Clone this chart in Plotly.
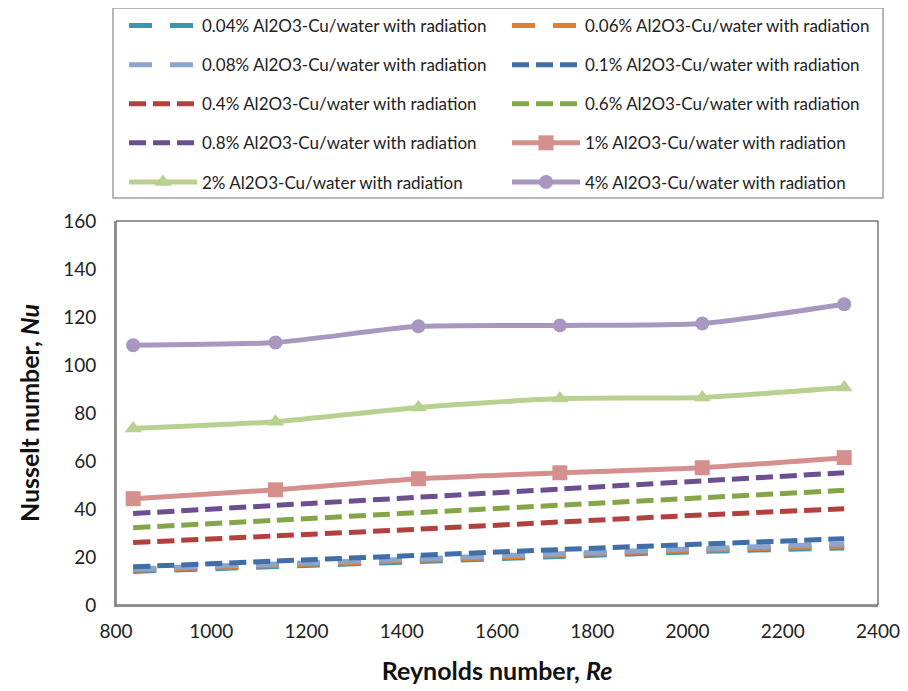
import plotly.graph_objects as go

re_vals = [836, 1135, 1435, 1732, 2031, 2329]

nu_004 = [14.0, 16.0, 18.1, 20.2, 22.3, 23.8]
nu_006 = [14.5, 16.5, 18.6, 20.8, 22.9, 24.5]
nu_008 = [15.0, 17.1, 19.2, 21.4, 23.5, 25.4]
nu_01 = [15.9, 18.3, 20.7, 23.1, 25.4, 27.6]
nu_04 = [26.0, 28.8, 31.6, 34.6, 37.5, 40.1]
nu_06 = [32.2, 35.3, 38.5, 41.6, 44.7, 47.8]
nu_08 = [38.1, 41.5, 44.9, 48.3, 51.7, 55.1]
nu_1 = [44.3, 48.0, 52.6, 55.1, 57.2, 61.4]
nu_2 = [73.5, 76.4, 82.3, 86.0, 86.5, 90.6]
nu_4 = [108.2, 109.4, 116.1, 116.5, 117.3, 125.3]

x_ticks = [800, 1000, 1200, 1400, 1600, 1800, 2000, 2200, 2400]
y_ticks = [0, 20, 40, 60, 80, 100, 120, 140, 160]

FONT = "Lato"

series = [
    ("0.04% Al2O3-Cu/water with radiation", nu_004, "#3A97AE", "23px,18px", None, "legend"),
    ("0.06% Al2O3-Cu/water with radiation", nu_006, "#E07E31", "23px,18px", None, "legend2"),
    ("0.08% Al2O3-Cu/water with radiation", nu_008, "#8AA6CE", "23px,18px", None, "legend"),
    ("0.1% Al2O3-Cu/water with radiation", nu_01, "#3F6EA8", "17px,7px", None, "legend2"),
    ("0.4% Al2O3-Cu/water with radiation", nu_04, "#B2403C", "17px,7px", None, "legend"),
    ("0.6% Al2O3-Cu/water with radiation", nu_06, "#84A548", "17px,7px", None, "legend2"),
    ("0.8% Al2O3-Cu/water with radiation", nu_08, "#6B4F8F", "17px,7px", None, "legend"),
    ("1% Al2O3-Cu/water with radiation", nu_1, "#D58F8D", "solid", "square", "legend2"),
    ("2% Al2O3-Cu/water with radiation", nu_2, "#B8D090", "solid", "triangle-up", "legend"),
    ("4% Al2O3-Cu/water with radiation", nu_4, "#A898C0", "solid", "circle", "legend2"),
]

marker_sizes = {"square": 15, "triangle-up": 15, "circle": 14}

fig = go.Figure()
for i, (name, vals, color, dash, sym, leg) in enumerate(series):
    kw = dict(
        x=re_vals, y=vals, name=name, legend=leg, legendgroup=f"g{i}",
        line=dict(color=color, width=5, dash=dash, shape="spline", smoothing=0.6),
    )
    if sym:
        kw["mode"] = "lines+markers"
        kw["marker"] = dict(symbol=sym, size=marker_sizes[sym], color=color)
    else:
        kw["mode"] = "lines"
    fig.add_trace(go.Scatter(**kw))

# plot area in figure pixels
L, T, R, B = 108, 213, 38, 94
W, H = 908, 691
pw = W - L - R
ph = H - T - B

def px_x(p):
    return (p - L) / pw

def px_y(p):
    return 1 + (T - p) / ph

legend_common = dict(
    bgcolor="rgba(0,0,0,0)", borderwidth=0, orientation="v",
    traceorder="grouped", tracegroupgap=14, itemwidth=68,
    font=dict(family=FONT, size=17, color="#222222"),
    yanchor="top", xanchor="left", y=px_y(0),
)

fig.update_layout(
    width=W, height=H,
    margin=dict(l=L, r=R, t=T, b=B, autoexpand=False),
    paper_bgcolor="white", plot_bgcolor="white",
    font=dict(family=FONT, size=19, color="#222222"),
    showlegend=True,
    legend=dict(**legend_common, x=px_x(116)),
    legend2=dict(**legend_common, x=px_x(499)),
    xaxis=dict(
        range=[800, 2400], tickvals=x_ticks, ticktext=[str(v) for v in x_ticks],
        showgrid=False, zeroline=False, showline=True, linecolor="#8C8C8C", linewidth=2,
        ticks="outside", ticklen=8, tickcolor="rgba(0,0,0,0)",
        tickfont=dict(family=FONT, size=19, color="#222222"),
        title=dict(text="<b>Reynolds number, <i>Re</i></b>",
                   font=dict(family=FONT, size=25, color="#111111"), standoff=22),
    ),
    yaxis=dict(
        range=[0, 160], tickvals=y_ticks, ticktext=[str(v) for v in y_ticks],
        showgrid=False, zeroline=False, showline=True, linecolor="#8C8C8C", linewidth=2,
        ticks="outside", ticklen=14, tickcolor="rgba(0,0,0,0)",
        tickfont=dict(family=FONT, size=19, color="#222222"),
        title=dict(text="<b>Nusselt number, <i>Nu</i></b>",
                   font=dict(family=FONT, size=25, color="#111111"), standoff=16),
    ),
    shapes=[
        dict(type="rect", xref="paper", yref="paper", x0=0, x1=1, y0=0, y1=1,
             line=dict(color="#333333", width=1), layer="below"),
        dict(type="rect", xref="paper", yref="paper",
             x0=px_x(105), x1=px_x(875), y0=px_y(190), y1=px_y(0),
             line=dict(color="#A0A0A0", width=1.5)),
    ],
)

fig.write_html("out.html")
